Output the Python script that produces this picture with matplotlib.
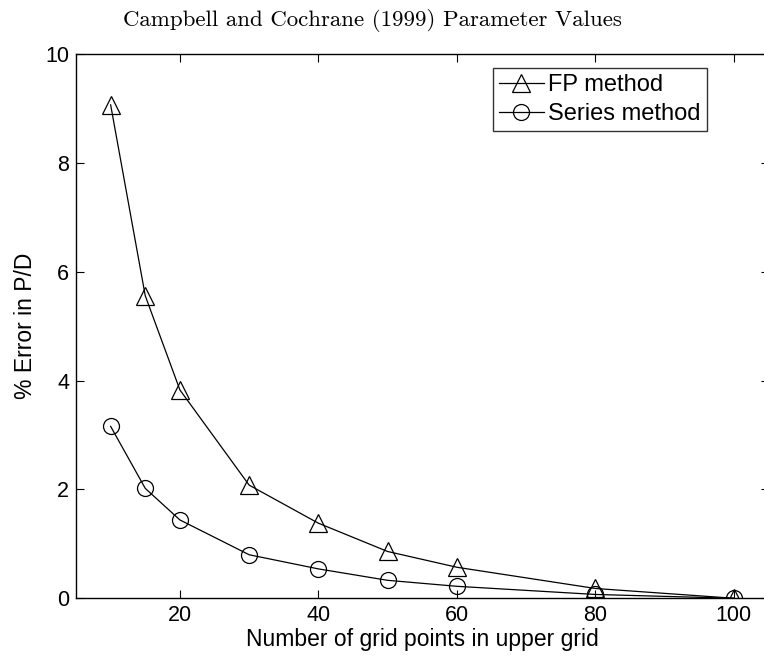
import matplotlib
matplotlib.use("Agg")
import matplotlib.pyplot as plt

# grid sizes and % errors
grid_points = [10, 15, 20, 30, 40, 50, 60, 80, 100]
fp_error = [9.07, 5.56, 3.83, 2.08, 1.38, 0.86, 0.57, 0.18, 0.0]
series_error = [3.16, 2.02, 1.44, 0.80, 0.54, 0.33, 0.22, 0.07, 0.0]

plt.rcParams['font.family'] = ['Liberation Sans', 'DejaVu Sans']
plt.rcParams['axes.unicode_minus'] = False

fig = plt.figure(figsize=(7.64, 6.61), dpi=100)
# right spine falls just outside the image, as in the original
ax = fig.add_axes([0.0995, 0.0949, 0.9064, 0.823])

ax.plot(grid_points, fp_error, '-', color='black', linewidth=0.9,
        marker='^', markersize=13, markerfacecolor='none',
        markeredgecolor='black', markeredgewidth=0.9, label='FP method')
ax.plot(grid_points, series_error, '-', color='black', linewidth=0.9,
        marker='o', markersize=11.5, markerfacecolor='none',
        markeredgecolor='black', markeredgewidth=0.9, label='Series method')

ax.set_xlim(5, 105)
ax.set_ylim(0, 10)
ax.set_xticks([20, 40, 60, 80, 100])
ax.set_yticks([0, 2, 4, 6, 8, 10])

#--------------------------------------------------------------------
ax.tick_params(which='major', direction='in', length=6, width=0.8,
               top=True, right=True, labelsize=15.5, pad=5)
for s in ax.spines.values():
    s.set_linewidth(1.0)

ax.set_xlabel('Number of grid points in upper grid', fontsize=16.5, labelpad=1)
ax.set_ylabel('% Error in P/D', fontsize=16.5, labelpad=6)

fig.text(372 / 764, 1 - 20 / 661, 'Campbell and Cochrane (1999) Parameter Values',
         fontsize=16.5, family='cmr10', ha='center', va='center')

lg = ax.legend(loc='upper right', bbox_to_anchor=(0.911, 0.975), fontsize=17,
               frameon=True, fancybox=False, edgecolor='black',
               handlelength=1.9, handletextpad=0.2, borderpad=0.25,
               labelspacing=0.3, borderaxespad=0.0)
lg.get_frame().set_linewidth(1.0)

fig.savefig('out.png', dpi=100)
